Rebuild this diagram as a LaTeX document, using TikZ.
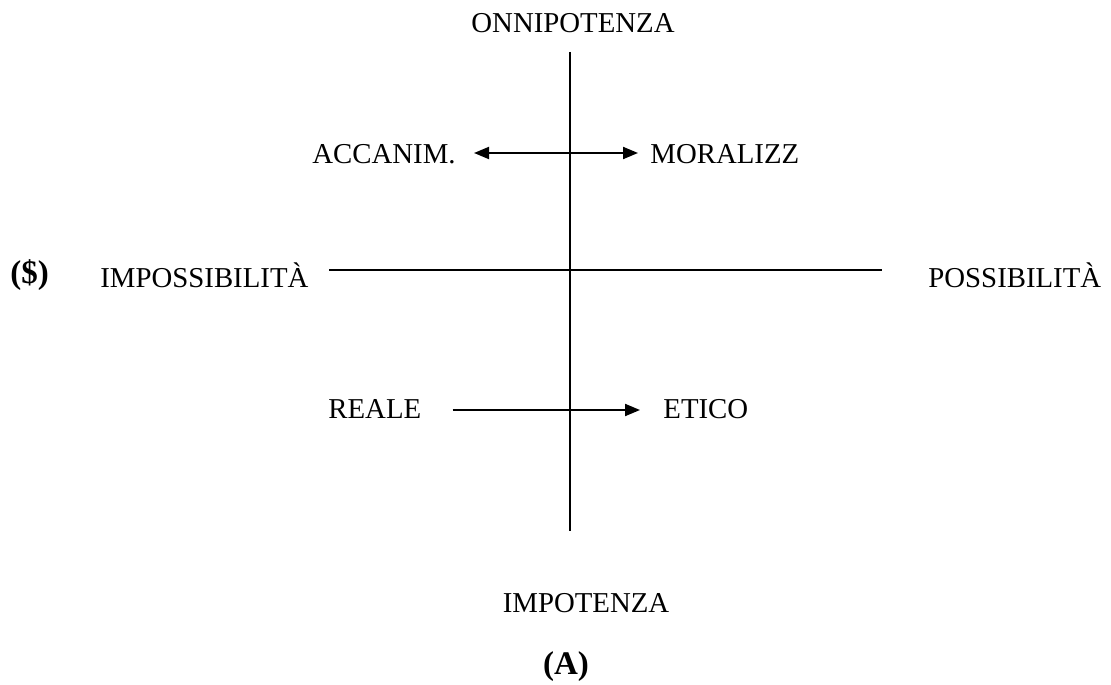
\documentclass[tikz,border=0pt]{standalone}
\usepackage{fontspec}
\setmainfont{Liberation Serif}
\usetikzlibrary{arrows.meta}
\tikzset{%
  pole text/.style={inner sep=0pt, font=\fontsize{14.4}{17}\selectfont},
  mark text/.style={inner sep=0pt, font=\fontsize{16.5}{20}\selectfont\bfseries},
  axis line/.style={line width=1pt},
  link arrow/.style={line width=1pt, -{Triangle[length=7.5pt,width=6pt]}},
  both arrow/.style={line width=1pt,
    {Triangle[length=7.5pt,width=6pt]}-{Triangle[length=7.5pt,width=6pt]}},
}

\begin{document}
\begin{tikzpicture}[x=0.5pt,y=-0.5pt]
  \useasboundingbox (0,0) rectangle (1111,684);
  % axes
  \coordinate (top) at (570,52);
  \coordinate (bottom) at (570,531);
  \coordinate (left) at (329,270);
  \coordinate (right) at (882,270);
  \draw[axis line] (top) -- (bottom);
  \draw[axis line] (left) -- (right);
  % poles
  \node[pole text, anchor=base] (onni) at (573,33) {ONNIPOTENZA};
  \node[pole text, anchor=base] (impot) at (586,612) {IMPOTENZA};
  \node[pole text, anchor=base west] (imposs) at (100,287) {IMPOSSIBILITÀ};
  \node[pole text, anchor=base west] (poss) at (928,287) {POSSIBILITÀ};
  \node[mark text, anchor=base west] (sogg) at (10,283) {(\$)};
  \node[mark text, anchor=base] (altro) at (566,674) {(A)};
  % quadrants
  \node[pole text, anchor=base west] (accanim) at (312,163) {ACCANIM.};
  \node[pole text, anchor=base west] (moraliz) at (650,163) {MORALIZZ};
  \node[pole text, anchor=base west] (reale) at (328,418) {REALE};
  \node[pole text, anchor=base west] (etico) at (663,418) {ETICO};
  \draw[both arrow] ([xshift=9pt,yshift=5pt]accanim.base east)
    -- ([xshift=-6pt,yshift=5pt]moraliz.base west);
  \draw[link arrow] ([xshift=15.5pt,yshift=4pt]reale.base east)
    -- ([xshift=-11.5pt,yshift=4pt]etico.base west);
\end{tikzpicture}
\end{document}
